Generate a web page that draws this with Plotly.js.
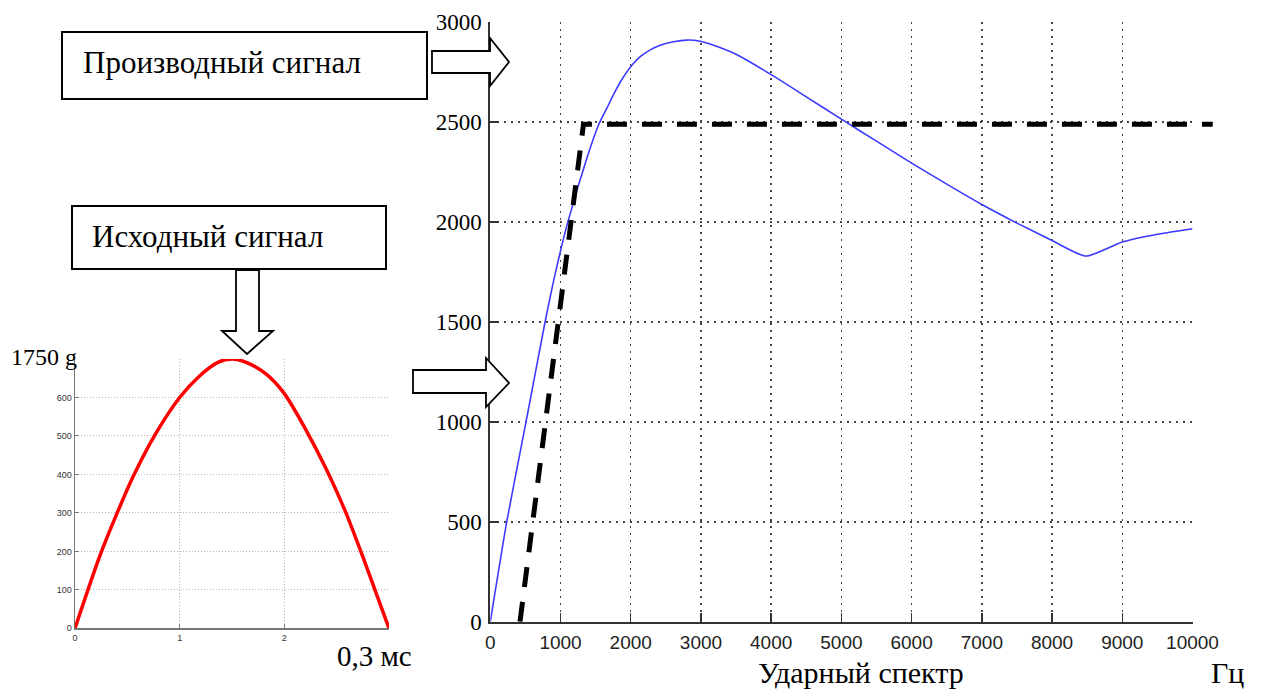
<!DOCTYPE html>
<html>
<head>
<meta charset="utf-8">
<script src="https://cdn.plot.ly/plotly-3.0.1.min.js"></script>
<style>html,body{margin:0;padding:0;background:#fff;}#chart{width:1263px;height:697px;}</style>
</head>
<body>
<div id="chart"></div>
<script>
// ---- Data ----
// Left: original half-sine pulse (time in units of 0.1 ms, acceleration in g)
const pulseTime = [0, 0.24, 0.40, 0.56, 0.76, 1.0, 1.19, 1.37, 1.5, 1.63, 1.83, 2.0, 2.21, 2.4, 2.58, 2.75, 3.0];
const pulseAccel = [0, 190, 298, 397, 501, 600, 656, 692, 700, 692, 660, 610, 514, 414, 306, 186, 0];
const pulseXTicks = [0, 1, 2, 3];
const pulseXTickText = ['0', '1', '2', ''];
const pulseYTicks = [0, 100, 200, 300, 400, 500, 600, 700];
const pulseYTickText = ['0', '100', '200', '300', '400', '500', '600', ''];

// Right: shock response spectrum (Hz vs g)
const specFreq = [0, 234, 509, 780, 947, 1104, 1375, 1540, 1660, 1754, 1850, 1945, 2040, 2135, 2278, 2420, 2610, 2800, 2990, 3180, 3500, 4000, 4500, 5000, 5500, 6000, 6500, 7000, 7500, 8000, 8481, 9000, 9500, 10000];
const specAmp  = [0, 500, 1000, 1500, 1777, 2000, 2320, 2485, 2570, 2638, 2700, 2752, 2795, 2828, 2862, 2885, 2903, 2911, 2905, 2885, 2840, 2738, 2627, 2515, 2405, 2295, 2190, 2088, 1995, 1908, 1830, 1900, 1939, 1967];
// Required (limit) spectrum, black dash line
const limitFreq = [423, 1327, 10290];
const limitAmp  = [0, 2490, 2490];
const specXTicks = [0, 1000, 2000, 3000, 4000, 5000, 6000, 7000, 8000, 9000, 10000];
const specXTickText = ['0', '1000', '2000', '3000', '4000', '5000', '6000', '7000', '8000', '9000', '10000'];
const specYTicks = [0, 500, 1000, 1500, 2000, 2500, 3000];
const specYTickText = ['0', '500', '1000', '1500', '2000', '2500', '3000'];

// Texts
const boxTextTop = 'Производный сигнал';
const boxTextMid = 'Исходный сигнал';
const peakLabel = '1750 g';
const durationLabel = '0,3 мс';
const specTitle = 'Ударный спектр';
const unitLabel = 'Гц';

// ---- Layout helpers (pixel -> paper) ----
const W = 1263, H = 697;
const px = x => x / W;
const py = y => 1 - y / H;
function pathFrom(points) {
  return 'M ' + points.map(p => px(p[0]).toFixed(5) + ' ' + py(p[1]).toFixed(5)).join(' L ') + ' Z';
}
function rightArrow(x0, xb, xt, sT, sB, hT, hB, yt) {
  return pathFrom([[x0, sT], [xb, sT], [xb, hT], [xt, yt], [xb, hB], [xb, sB], [x0, sB]]);
}
function downArrow(xl, xr, y0, yb, hl, hr, xt, yt) {
  return pathFrom([[xl, y0], [xr, y0], [xr, yb], [hr, yb], [xt, yt], [hl, yb], [xl, yb]]);
}

const serif = 'Liberation Serif, Times New Roman, serif';
const sans = 'Liberation Sans, Arial, sans-serif';

// Main axis pixel geometry
const mainL = 490.3, mainR = 1192.5, mainT = 22.3, mainB = 621.7;
const pxPerUnit = (mainR - mainL) / 10000;
const extEnd = limitFreq[limitFreq.length - 1];

const traces = [
  {
    x: pulseTime, y: pulseAccel, xaxis: 'x', yaxis: 'y', type: 'scatter', mode: 'lines',
    line: { color: '#ff0000', width: 3.5, shape: 'spline', smoothing: 0.8 }, hoverinfo: 'skip'
  },
  {
    x: specFreq, y: specAmp, xaxis: 'x2', yaxis: 'y2', type: 'scatter', mode: 'lines',
    line: { color: '#3b3bff', width: 1.6, shape: 'spline', smoothing: 0.6 }, hoverinfo: 'skip'
  },
  {
    x: limitFreq, y: limitAmp, xaxis: 'x3', yaxis: 'y3', type: 'scatter', mode: 'lines',
    line: { color: '#000000', width: 5, dash: '20px,15px' }, hoverinfo: 'skip'
  }
];

const gridMain = { showgrid: true, gridcolor: '#444', gridwidth: 1.5, griddash: '2px,5px' };
const gridSmall = { showgrid: true, gridcolor: '#b5b5b5', gridwidth: 1, griddash: '1px,2px' };

const layout = {
  width: W, height: H,
  margin: { l: 0, r: 0, t: 0, b: 0 },
  paper_bgcolor: '#ffffff', plot_bgcolor: 'rgba(0,0,0,0)',
  showlegend: false,
  xaxis: Object.assign({
    domain: [px(75), px(389)], anchor: 'y', range: [0, 3], tickvals: pulseXTicks, ticktext: pulseXTickText,
    ticks: 'inside', ticklen: 4, tickcolor: '#777', showline: true, linecolor: '#777', linewidth: 1.5,
    zeroline: false, automargin: false, fixedrange: true,
    tickfont: { family: sans, size: 9, color: '#333' }
  }, gridSmall),
  yaxis: Object.assign({
    domain: [py(628.3), py(359)], anchor: 'x', range: [0, 700], tickvals: pulseYTicks, ticktext: pulseYTickText,
    ticks: 'inside', ticklen: 4, tickcolor: '#777', showline: true, linecolor: '#777', linewidth: 1.5,
    zeroline: false, automargin: false, fixedrange: true,
    tickfont: { family: sans, size: 9, color: '#333' }
  }, gridSmall),
  xaxis2: Object.assign({
    domain: [px(mainL), px(mainR)], anchor: 'y2', range: [0, 10000], tickvals: specXTicks, ticktext: specXTickText,
    ticks: 'inside', ticklen: 9, tickcolor: '#333', tickwidth: 1.5, showline: true, linecolor: '#333', linewidth: 2,
    zeroline: false, automargin: false, fixedrange: true, ticklabelstandoff: 2,
    tickfont: { family: sans, size: 19, color: '#222' }
  }, gridMain),
  yaxis2: Object.assign({
    domain: [py(mainB), py(mainT)], anchor: 'x2', range: [0, 3000], tickvals: specYTicks, ticktext: specYTickText,
    ticks: 'inside', ticklen: 9, tickcolor: '#333', tickwidth: 1.5, showline: true, linecolor: '#333', linewidth: 2,
    zeroline: false, automargin: false, fixedrange: true, ticklabelstandoff: 2,
    tickfont: { family: serif, size: 23, color: '#000' }
  }, gridMain),
  xaxis3: {
    domain: [px(mainL), px(mainL + extEnd * pxPerUnit)], anchor: 'y3', range: [0, extEnd],
    visible: false, showgrid: false, zeroline: false, fixedrange: true
  },
  yaxis3: {
    domain: [py(mainB), py(mainT)], anchor: 'x3', range: [0, 3000],
    visible: false, showgrid: false, zeroline: false, fixedrange: true
  },
  shapes: [
    // text boxes
    { type: 'rect', xref: 'paper', yref: 'paper', x0: px(62), x1: px(427), y0: py(99), y1: py(32),
      line: { color: '#000', width: 2 }, fillcolor: 'rgba(255,255,255,0)' },
    { type: 'rect', xref: 'paper', yref: 'paper', x0: px(72), x1: px(386), y0: py(269), y1: py(206),
      line: { color: '#000', width: 2 }, fillcolor: 'rgba(255,255,255,0)' },
    // arrows
    { type: 'path', xref: 'paper', yref: 'paper', path: rightArrow(432, 490, 509, 51, 73, 38, 86, 62),
      line: { color: '#000', width: 1.8 }, fillcolor: '#ffffff' },
    { type: 'path', xref: 'paper', yref: 'paper', path: rightArrow(413, 486, 509, 370, 393, 358, 407, 383),
      line: { color: '#000', width: 1.8 }, fillcolor: '#ffffff' },
    { type: 'path', xref: 'paper', yref: 'paper', path: downArrow(236, 259, 270, 331, 222, 273, 247, 354),
      line: { color: '#000', width: 1.8 }, fillcolor: '#ffffff' }
  ],
  annotations: [
    { xref: 'paper', yref: 'paper', x: px(81), y: py(63), xanchor: 'left', yanchor: 'middle', showarrow: false,
      text: boxTextTop, font: { family: serif, size: 31, color: '#000' } },
    { xref: 'paper', yref: 'paper', x: px(90), y: py(236), xanchor: 'left', yanchor: 'middle', showarrow: false,
      text: boxTextMid, font: { family: serif, size: 31, color: '#000' } },
    { xref: 'paper', yref: 'paper', x: px(9), y: py(357), xanchor: 'left', yanchor: 'middle', showarrow: false,
      text: peakLabel, font: { family: serif, size: 24, color: '#000' } },
    { xref: 'paper', yref: 'paper', x: px(335), y: py(656), xanchor: 'left', yanchor: 'middle', showarrow: false,
      text: durationLabel, font: { family: serif, size: 29, color: '#000' } },
    { xref: 'paper', yref: 'paper', x: px(861), y: py(672), xanchor: 'center', yanchor: 'middle', showarrow: false,
      text: specTitle, font: { family: serif, size: 30, color: '#000' } },
    { xref: 'paper', yref: 'paper', x: px(1209), y: py(672), xanchor: 'left', yanchor: 'middle', showarrow: false,
      text: unitLabel, font: { family: serif, size: 30, color: '#000' } }
  ]
};

Plotly.newPlot('chart', traces, layout, { staticPlot: true, displayModeBar: false });
</script>
</body>
</html>
